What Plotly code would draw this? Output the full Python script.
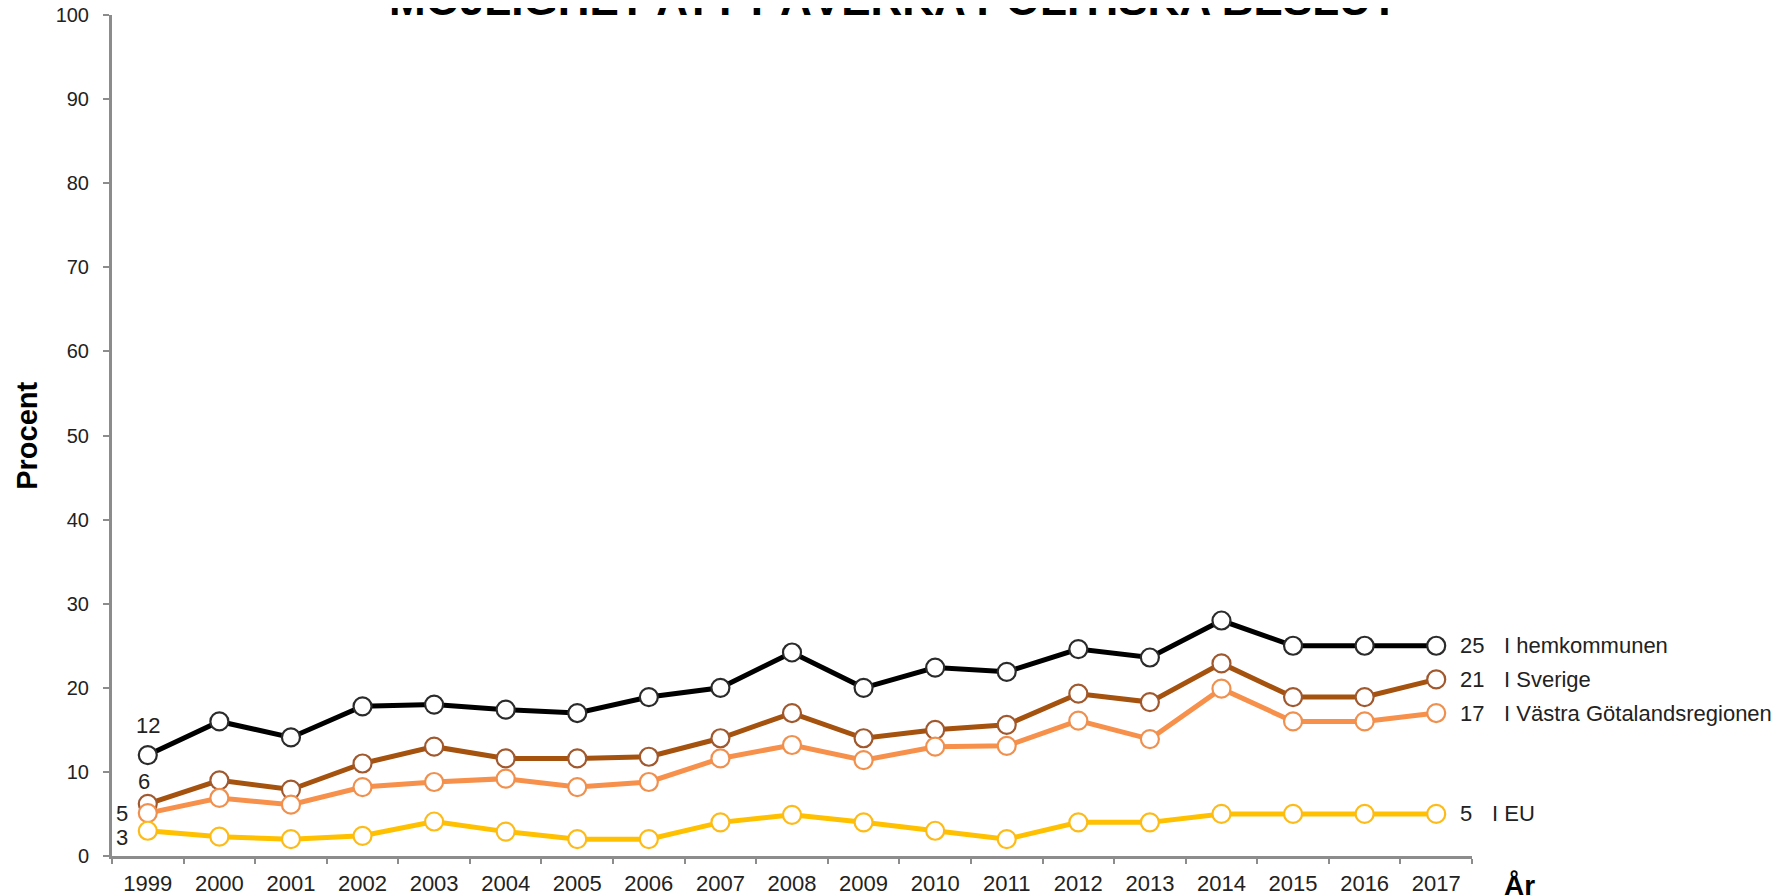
"""Line chart: möjlighet att påverka politiska beslut, 1999-2017."""

import plotly.graph_objects as go

YEARS = [str(y) for y in range(1999, 2018)]

HEMKOMMUNEN = [12, 16, 14.1, 17.8, 18, 17.4, 17, 18.9, 20, 24.2, 20, 22.4, 21.9,
               24.6, 23.6, 28, 25, 25, 25]
SVERIGE = [6.2, 9, 7.9, 11, 13, 11.6, 11.6, 11.8, 14, 17, 14, 15, 15.6,
           19.3, 18.3, 22.9, 18.9, 18.9, 21]
VASTRA_GOTALAND = [5.1, 6.9, 6.1, 8.2, 8.8, 9.2, 8.2, 8.8, 11.6, 13.2, 11.4, 13, 13.1,
                   16.1, 13.9, 19.9, 16, 16, 17]
EU = [3, 2.3, 2, 2.4, 4.1, 2.9, 2, 2, 4, 4.9, 4, 3, 2,
      4, 4, 5, 5, 5, 5]

SERIES = [
    ("I hemkommunen", HEMKOMMUNEN, "#000000", "#2b2b2b"),
    ("I Sverige", SVERIGE, "#A5520F", "#A0582E"),
    ("I Västra Götalandsregionen", VASTRA_GOTALAND, "#F7904A", "#F0904F"),
    ("I EU", EU, "#FFC000", "#FDBB1A"),
]

TITLE = "MÖJLIGHET ATT PÅVERKA POLITISKA BESLUT"
FONT = "Liberation Sans, Arial, sans-serif"
TEXT_COLOR = "#222222"
AXIS_COLOR = "#8c8c8c"

# pixel offsets of the value labels at the first point
START_SHIFT = [(0, 30, "center"), (-4, 22, "center"), (-18, 0, "right"), (-18, -7, "right")]

fig = go.Figure()
for name, values, color, edge in SERIES:
    fig.add_trace(go.Scatter(
        x=YEARS,
        y=values,
        mode="lines+markers",
        name=name,
        line=dict(color=color, width=5),
        marker=dict(size=18, color="white", line=dict(color=edge, width=2.2)),
        cliponaxis=False,
        hovertemplate="%{x}: %{y}<extra>" + name + "</extra>",
    ))

# category axis: annotations are placed by category index
first, last_i = 0, len(YEARS) - 1
for (name, values, color, edge), (dx, dy, anchor) in zip(SERIES, START_SHIFT):
    fig.add_annotation(
        x=first, y=values[0], text=f"{round(values[0])}",
        xanchor=anchor, yanchor="middle", xshift=dx, yshift=dy,
        showarrow=False, font=dict(size=22, color=TEXT_COLOR),
    )
    last = values[-1]
    label = f"{round(last)}"
    fig.add_annotation(
        x=last_i, y=last, text=label,
        xanchor="left", yanchor="middle", xshift=22,
        showarrow=False, font=dict(size=22, color=TEXT_COLOR),
    )
    fig.add_annotation(
        x=last_i, y=last, text=name,
        xanchor="left", yanchor="middle", xshift=22 + 12 * len(label) + 20,
        showarrow=False, font=dict(size=22, color=TEXT_COLOR),
    )

# the title sits mostly above the top edge, as in the original
fig.add_annotation(
    x=0.575, y=1, xref="paper", yref="paper", text=f"<b>{TITLE}</b>",
    xanchor="center", yanchor="bottom", yshift=-11,
    showarrow=False, font=dict(size=44, color="#000000"),
)
fig.add_annotation(
    x=-0.063, y=0.5, xref="paper", yref="paper", text="<b>Procent</b>",
    textangle=-90, xanchor="center", yanchor="middle",
    showarrow=False, font=dict(size=29, color="#000000"),
)
fig.add_annotation(
    x=1.0, y=0, xref="paper", yref="paper", text="<b>År</b>",
    xanchor="left", yanchor="middle", xshift=30, yshift=-29,
    showarrow=False, font=dict(size=28, color="#000000"),
)

# the page body has an 8 px margin, so the figure is 8 px smaller than the window
fig.update_layout(
    width=1781,
    height=888,
    plot_bgcolor="white",
    paper_bgcolor="white",
    showlegend=False,
    font=dict(family=FONT, size=21, color=TEXT_COLOR),
    margin=dict(l=104, r=317, t=7, b=40),
)
fig.update_xaxes(
    type="category", range=[-0.5, len(YEARS) - 0.5],
    showline=True, linecolor=AXIS_COLOR, linewidth=3,
    ticks="outside", tickson="boundaries", ticklen=5, tickwidth=2, tickcolor=AXIS_COLOR,
    showgrid=False, zeroline=False, tickangle=0, automargin=False,
    ticklabelstandoff=6, ticklabeloverflow="allow",
    tickfont=dict(size=22, color=TEXT_COLOR),
)
fig.update_yaxes(
    range=[0, 100], dtick=10,
    showline=True, linecolor=AXIS_COLOR, linewidth=3,
    ticks="outside", ticklen=6, tickwidth=2, tickcolor=AXIS_COLOR,
    showgrid=False, zeroline=False, automargin=False,
    ticklabelstandoff=10, ticklabeloverflow="allow",
    tickfont=dict(size=20, color=TEXT_COLOR),
)

fig.write_html("out.html")
